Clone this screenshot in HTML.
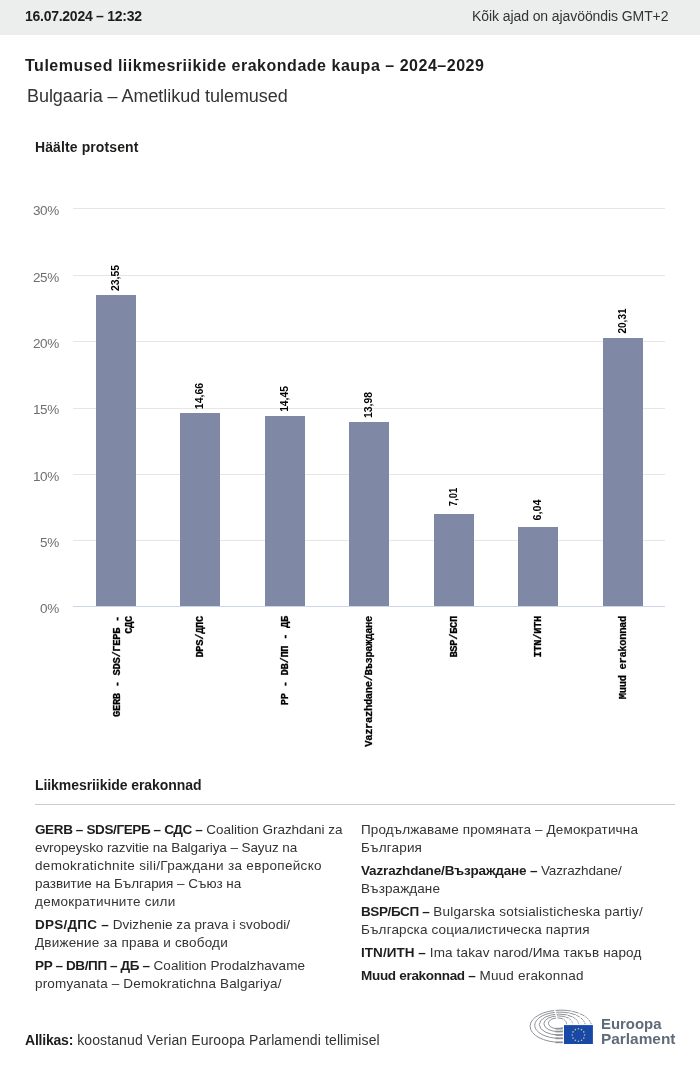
<!DOCTYPE html>
<html lang="et">
<head>
<meta charset="utf-8">
<title>Tulemused liikmesriikide erakondade kaupa</title>
<style>
html,body{margin:0;padding:0;}
body{width:700px;height:1065px;position:relative;background:#fff;font-family:"Liberation Sans",sans-serif;color:#1d1d1b;overflow:hidden;}
.abs{position:absolute;white-space:nowrap;}
#root{position:absolute;left:0;top:0;width:700px;height:1065px;will-change:transform;}
#topbar{position:absolute;left:0;top:0;width:700px;height:35px;background:#eceeed;}
#date{left:25px;top:8px;font-size:14px;font-weight:bold;line-height:16px;}
#tz{left:472px;top:8px;font-size:14px;line-height:16px;color:#333;}
#title{left:25px;top:56px;font-size:16px;font-weight:bold;line-height:20px;}
#subtitle{left:27px;top:85.5px;font-size:18px;line-height:20px;color:#333;}
#ylab{left:35px;top:139px;font-size:14px;font-weight:bold;line-height:16px;}
.grid{position:absolute;left:73px;width:592px;height:1px;background:#e6e6e6;}
.axis{position:absolute;left:73px;width:592px;height:1px;background:#ccd6eb;}
.yt{position:absolute;left:9px;width:50px;text-align:right;font-size:13.5px;line-height:16px;color:#6e6e6e;letter-spacing:-0.3px;}
.bar{position:absolute;width:40px;background:#7f89a6;}
.val{position:absolute;font-size:11.3px;font-weight:bold;line-height:12px;white-space:nowrap;color:#000;}
.xl{position:absolute;font-family:"Liberation Mono",monospace;font-size:10.5px;letter-spacing:-0.36px;font-weight:bold;line-height:12px;-webkit-text-stroke:0.25px #000;white-space:nowrap;text-align:right;transform-origin:100% 0;transform:rotate(-90deg);color:#000;}
#sec{left:35px;top:777px;font-size:14px;font-weight:bold;line-height:16px;}
#hr{position:absolute;left:35px;top:804px;width:640px;height:1px;background:#ccc;}
.col{position:absolute;font-size:13.5px;line-height:18px;color:#333;white-space:nowrap;}
.ln{height:18px;white-space:pre;}
.ln.np{margin-top:5px;}
.col b{color:#1d1d1b;}
#src{left:25px;top:1031px;font-size:14px;line-height:18px;color:#333;white-space:pre;}
#src b{color:#1d1d1b;}
.lg{font-size:14px;font-weight:bold;line-height:16px;color:#5f6b78;}
</style>
</head>
<body>
<div id="root">
<div id="topbar"></div>
<div id="date" class="abs" style="letter-spacing:-0.265px">16.07.2024 – 12:32</div>
<div id="tz" class="abs" style="letter-spacing:-0.084px">Kõik ajad on ajavööndis GMT+2</div>
<div id="title" class="abs" style="letter-spacing:0.519px">Tulemused liikmesriikide erakondade kaupa – 2024–2029</div>
<div id="subtitle" class="abs" style="letter-spacing:-0.048px">Bulgaaria – Ametlikud tulemused</div>
<div id="ylab" class="abs" style="letter-spacing:0.103px">Häälte protsent</div>

<!-- chart -->
<div id="chart">
<div class="grid" style="top:208px"></div>
<div class="grid" style="top:275px"></div>
<div class="grid" style="top:341px"></div>
<div class="grid" style="top:408px"></div>
<div class="grid" style="top:474px"></div>
<div class="grid" style="top:540px"></div>
<div class="yt" style="top:203.4px">30%</div>
<div class="yt" style="top:269.7px">25%</div>
<div class="yt" style="top:336.1px">20%</div>
<div class="yt" style="top:402.4px">15%</div>
<div class="yt" style="top:468.7px">10%</div>
<div class="yt" style="top:535.1px">5%</div>
<div class="yt" style="top:601.4px">0%</div>

<div class="bar" style="left:96px;top:295px;height:311px"></div>
<div class="bar" style="left:180px;top:413px;height:193px"></div>
<div class="bar" style="left:265px;top:416px;height:190px"></div>
<div class="bar" style="left:349px;top:422px;height:184px"></div>
<div class="bar" style="left:434px;top:514px;height:92px"></div>
<div class="bar" style="left:518px;top:527px;height:79px"></div>
<div class="bar" style="left:603px;top:338px;height:268px"></div>
<div class="axis" style="top:606px"></div>

<div class="val" style="left:115.25px;top:277.9px;transform:translate(-50%,-50%) rotate(-90deg) scaleX(0.924)">23,55</div>
<div class="val" style="left:199.25px;top:395.9px;transform:translate(-50%,-50%) rotate(-90deg) scaleX(0.931)">14,66</div>
<div class="val" style="left:284.25px;top:398.9px;transform:translate(-50%,-50%) rotate(-90deg) scaleX(0.909)">14,45</div>
<div class="val" style="left:368.25px;top:404.9px;transform:translate(-50%,-50%) rotate(-90deg) scaleX(0.917)">13,98</div>
<div class="val" style="left:453.25px;top:496.9px;transform:translate(-50%,-50%) rotate(-90deg) scaleX(0.834)">7,01</div>
<div class="val" style="left:537.25px;top:509.9px;transform:translate(-50%,-50%) rotate(-90deg) scaleX(0.953)">6,04</div>
<div class="val" style="left:622.25px;top:320.9px;transform:translate(-50%,-50%) rotate(-90deg) scaleX(0.887)">20,31</div>

<div class="xl" style="right:589.2px;top:615.7px">GERB - SDS/ГЕРБ -<br>СДС</div>
<div class="xl" style="right:506.2px;top:615.7px">DPS/ДПС</div>
<div class="xl" style="right:421.2px;top:615.7px">PP - DB/ПП - ДБ</div>
<div class="xl" style="right:337.2px;top:615.7px">Vazrazhdane/Възраждане</div>
<div class="xl" style="right:252.2px;top:615.7px">BSP/БСП</div>
<div class="xl" style="right:168.2px;top:615.7px">ITN/ИТН</div>
<div class="xl" style="right:83.2px;top:615.7px">Muud erakonnad</div>
</div>

<div id="sec" class="abs" style="letter-spacing:-0.070px">Liikmesriikide erakonnad</div>
<div id="hr"></div>

<div class="col" style="left:35px;top:821px">
<div class="ln" id="L1"><b id="L1b" style="letter-spacing:-0.376px">GERB – SDS/ГЕРБ – СДС –</b><span id="L1r" style="letter-spacing:-0.008px"> Coalition Grazhdani za</span></div>
<div class="ln" id="L2"><span id="L2r" style="letter-spacing:-0.081px">evropeysko razvitie na Balgariya – Sayuz na</span></div>
<div class="ln" id="L3"><span id="L3r" style="letter-spacing:0.321px">demokratichnite sili/Граждани за европейско</span></div>
<div class="ln" id="L4"><span id="L4r" style="letter-spacing:-0.037px">развитие на България – Съюз на</span></div>
<div class="ln" id="L5"><span id="L5r" style="letter-spacing:0.260px">демократичните сили</span></div>
<div class="ln np" id="L6"><b id="L6b" style="letter-spacing:0.225px">DPS/ДПС –</b><span id="L6r" style="letter-spacing:0.062px"> Dvizhenie za prava i svobodi/</span></div>
<div class="ln" id="L7"><span id="L7r" style="letter-spacing:0.194px">Движение за права и свободи</span></div>
<div class="ln np" id="L8"><b id="L8b" style="letter-spacing:-0.371px">PP – DB/ПП – ДБ –</b><span id="L8r" style="letter-spacing:0.063px"> Coalition Prodalzhavame</span></div>
<div class="ln" id="L9"><span id="L9r" style="letter-spacing:0.155px">promyanata – Demokratichna Balgariya/</span></div>
</div>
<div class="col" style="left:361px;top:821px">
<div class="ln" id="R1"><span id="R1r" style="letter-spacing:0.140px">Продължаваме промяната – Демократична</span></div>
<div class="ln" id="R2"><span id="R2r" style="letter-spacing:0.180px">България</span></div>
<div class="ln np" id="R3"><b id="R3b" style="letter-spacing:-0.157px">Vazrazhdane/Възраждане –</b><span id="R3r" style="letter-spacing:-0.150px"> Vazrazhdane/</span></div>
<div class="ln" id="R4"><span id="R4r" style="letter-spacing:0.100px">Възраждане</span></div>
<div class="ln np" id="R5"><b id="R5b" style="letter-spacing:-0.382px">BSP/БСП –</b><span id="R5r" style="letter-spacing:0.221px"> Bulgarska sotsialisticheska partiy/</span></div>
<div class="ln" id="R6"><span id="R6r" style="letter-spacing:0.151px">Българска социалистическа партия</span></div>
<div class="ln np" id="R7"><b id="R7b" style="letter-spacing:0.045px">ITN/ИТН –</b><span id="R7r" style="letter-spacing:0.145px"> Ima takav narod/Има такъв народ</span></div>
<div class="ln np" id="R8"><b id="R8b" style="letter-spacing:-0.300px">Muud erakonnad –</b><span id="R8r" style="letter-spacing:0.206px"> Muud erakonnad</span></div>
</div>

<div id="src" class="abs"><b id="srcb" style="letter-spacing:-0.206px">Allikas:</b><span id="srcr" style="letter-spacing:0.117px"> koostanud Verian Euroopa Parlamendi tellimisel</span></div>

<!-- logo -->
<svg id="logosvg" width="72" height="44" viewBox="0 0 72 44" style="position:absolute;left:526px;top:1004px;overflow:visible">
<ellipse cx="31.50" cy="19.30" rx="9.10" ry="5.40" fill="none" stroke="#888c92" stroke-width="0.95"/>
<ellipse cx="32.35" cy="19.75" rx="14.45" ry="7.85" fill="none" stroke="#888c92" stroke-width="0.95"/>
<ellipse cx="33.15" cy="20.55" rx="19.85" ry="10.45" fill="none" stroke="#888c92" stroke-width="0.95"/>
<ellipse cx="33.95" cy="21.25" rx="25.25" ry="13.15" fill="none" stroke="#888c92" stroke-width="0.95"/>
<ellipse cx="34.80" cy="22.25" rx="30.70" ry="16.15" fill="none" stroke="#888c92" stroke-width="0.95"/>
<line x1="31.25" y1="15.60" x2="26.24" y2="-4.01" stroke="#fff" stroke-width="1.4"/>
<line x1="36.73" y1="16.13" x2="53.63" y2="-1.35" stroke="#fff" stroke-width="0.8"/>
<line x1="38.97" y1="17.06" x2="64.87" y2="3.31" stroke="#fff" stroke-width="0.8"/>
<line x1="40.29" y1="18.02" x2="71.47" y2="8.13" stroke="#fff" stroke-width="0.8"/>
<line x1="41.06" y1="18.97" x2="75.30" y2="12.85" stroke="#fff" stroke-width="0.8"/>
<line x1="41.41" y1="19.81" x2="77.06" y2="17.06" stroke="#fff" stroke-width="0.8"/>
<rect x="37.20" y="20.20" width="31" height="22" fill="#fff"/>
<rect x="29.50" y="23.80" width="7.2" height="1.7" fill="#8d9197"/>
<rect x="29.50" y="26.70" width="7.2" height="1.7" fill="#8d9197"/>
<rect x="29.50" y="30.10" width="7.2" height="1.7" fill="#8d9197"/>
<rect x="29.50" y="33.50" width="7.2" height="1.7" fill="#8d9197"/>
<rect x="29.50" y="37.50" width="7.2" height="1.7" fill="#8d9197"/>
<rect x="38.00" y="21.10" width="28.9" height="18.9" fill="#1848a8"/>
<circle cx="58.60" cy="31.00" r="0.8" fill="#d6dc8c" fill-opacity="0.85"/>
<circle cx="57.77" cy="34.10" r="0.8" fill="#d6dc8c" fill-opacity="0.85"/>
<circle cx="55.50" cy="36.37" r="0.8" fill="#d6dc8c" fill-opacity="0.85"/>
<circle cx="52.40" cy="37.20" r="0.8" fill="#d6dc8c" fill-opacity="0.85"/>
<circle cx="49.30" cy="36.37" r="0.8" fill="#d6dc8c" fill-opacity="0.85"/>
<circle cx="47.03" cy="34.10" r="0.8" fill="#d6dc8c" fill-opacity="0.85"/>
<circle cx="46.20" cy="31.00" r="0.8" fill="#d6dc8c" fill-opacity="0.85"/>
<circle cx="47.03" cy="27.90" r="0.8" fill="#d6dc8c" fill-opacity="0.85"/>
<circle cx="49.30" cy="25.63" r="0.8" fill="#d6dc8c" fill-opacity="0.85"/>
<circle cx="52.40" cy="24.80" r="0.8" fill="#d6dc8c" fill-opacity="0.85"/>
<circle cx="55.50" cy="25.63" r="0.8" fill="#d6dc8c" fill-opacity="0.85"/>
<circle cx="57.77" cy="27.90" r="0.8" fill="#d6dc8c" fill-opacity="0.85"/>
</svg>
<div id="lg1" class="abs lg" style="left:601px;top:1016px;transform-origin:0 0;transform:scaleX(1.065)">Euroopa</div>
<div id="lg2" class="abs lg" style="left:601px;top:1031px;transform-origin:0 0;transform:scaleX(1.10)">Parlament</div>
</div>
</body>
</html>
